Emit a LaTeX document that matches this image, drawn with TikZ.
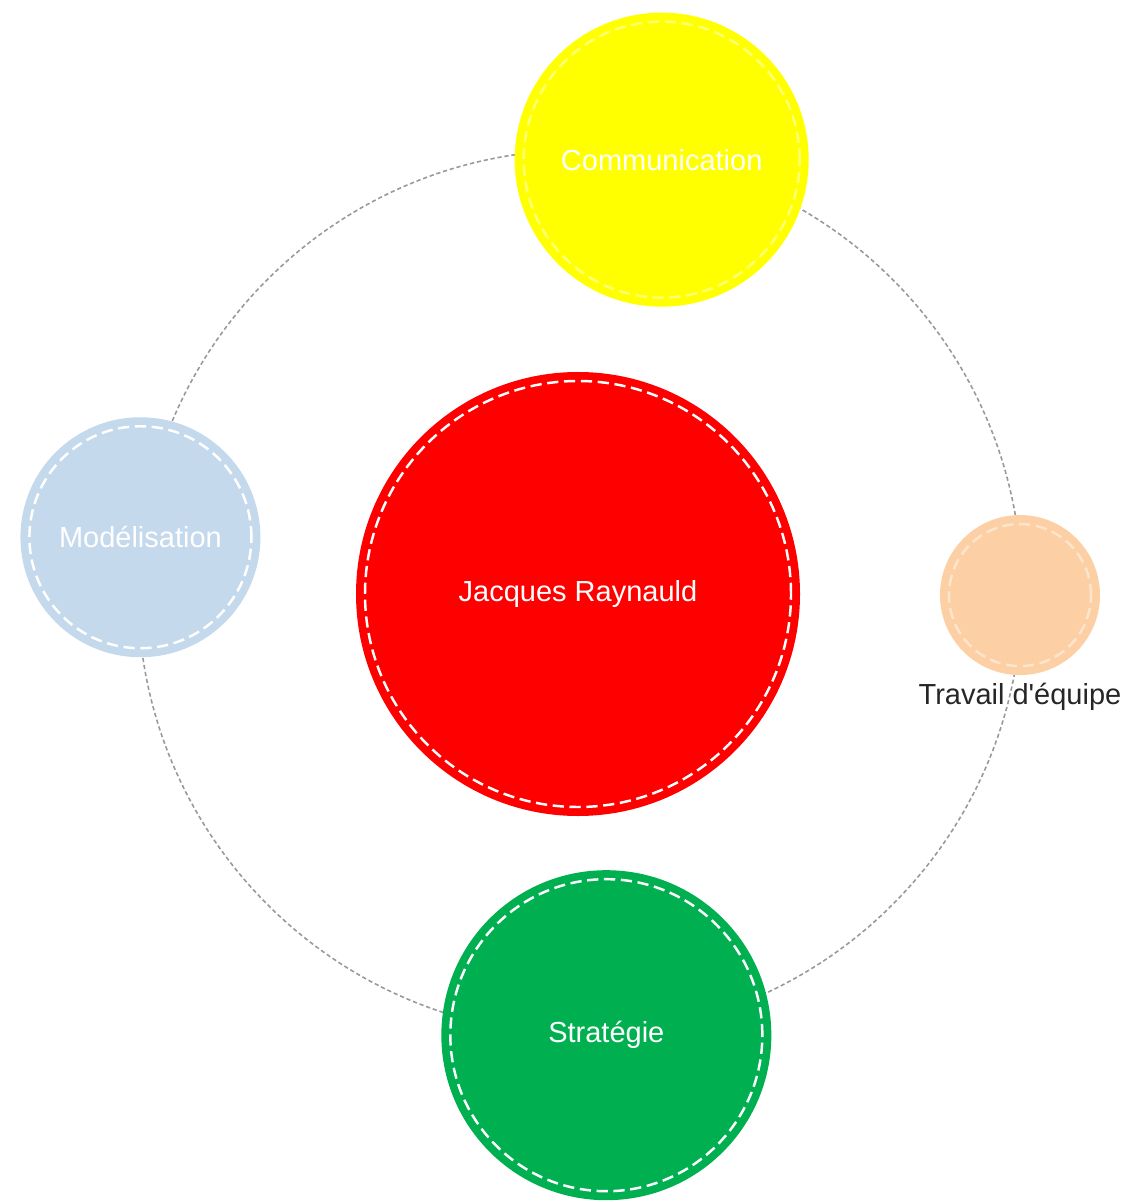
\documentclass[tikz,border=0pt]{standalone}
\usepackage{fontspec}
\setmainfont{Liberation Sans}
\usetikzlibrary{positioning}

\definecolor{commyellow}{RGB}{255,255,0}
\definecolor{modblue}{RGB}{197,217,237}
\definecolor{teampeach}{RGB}{252,208,164}
\definecolor{stratgreen}{RGB}{0,176,80}
\definecolor{mainred}{RGB}{255,0,0}

\begin{document}
\begin{tikzpicture}[font=\fontsize{8.25}{10}\selectfont,
  bubble/.style={circle, inner sep=0pt, text=white, fill=#1, draw=white, line width=0.7pt,
    dash pattern=on 3.2pt off 1.6pt, preaction={draw=#1, draw opacity=1, solid, line width=0.18cm}},
  faint/.style={draw opacity=0.45},
  orbit line/.style={draw=black!40, line width=0.45pt, dash pattern=on 1.2pt off 0.8pt}]

\useasboundingbox (0,0) rectangle (11.27,-12.02);

\coordinate (orbit) at (5.80,-5.92);
\draw[orbit line] (orbit) circle (4.42);

\node[bubble=mainred, minimum size=4.26cm] (jacques) at (5.78,-5.94) {Jacques Raynauld};
\node[bubble=commyellow, faint, minimum size=2.76cm] (comm) at ([shift={(79.3:4.40)}]orbit) {Communication};
\node[bubble=modblue, minimum size=2.22cm] (model) at ([shift={(172.9:4.43)}]orbit) {Modélisation};
\node[bubble=teampeach, faint, minimum size=1.42cm] (team) at ([shift={(-0.4:4.40)}]orbit) {};
\node[bubble=stratgreen, minimum size=3.12cm] (strat) at ([shift={(-86.6:4.44)}]orbit) {Stratégie};

\node[text=black!85, inner sep=2pt] (team label) [below=0.8mm of team] {Travail d\textquotesingle équipe};

\end{tikzpicture}
\end{document}
